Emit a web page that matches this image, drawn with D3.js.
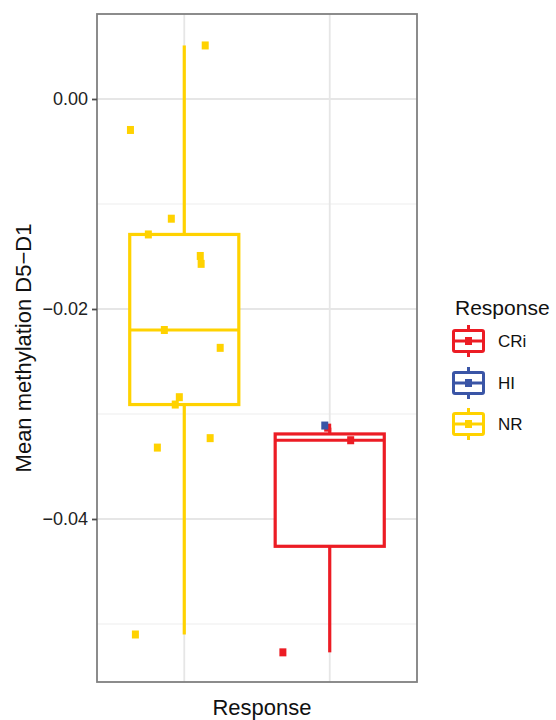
<!DOCTYPE html>
<html>
<head>
<meta charset="utf-8">
<script src="https://cdn.jsdelivr.net/npm/d3@7"></script>
<style>
  body { margin: 0; background: #fff; }
  text { font-family: "Liberation Sans", Arial, sans-serif; }
</style>
</head>
<body>
<div id="chart"></div>
<script>
// data
const groups = ["CRi", "HI", "NR"];
const slots = ["NR", "CRi"];               // positions on the x axis
const groupSlot = { NR: "NR", CRi: "CRi", HI: "CRi" };
const nrValues = [0.0051, -0.00295, -0.0114, -0.0129, -0.01495, -0.0157, -0.0220,
                  -0.0237, -0.0284, -0.0291, -0.0323, -0.0332, -0.0510];
const nrJitter = [0.144, -0.37, -0.089, -0.247, 0.11, 0.116, -0.137,
                  0.247, -0.034, -0.062, 0.178, -0.185, -0.336];
const criValues = [-0.0313, -0.0325, -0.0527];
const criJitter = [-0.014, 0.144, -0.322];
const hiValues = [-0.0311];
const hiJitter = [-0.034];
const yTicks = [-0.04, -0.02, 0.00];
const yMinor = [-0.05, -0.03, -0.01];
const yDomain = [-0.055524, 0.008095];

const colors = { CRi: "#EC1C24", HI: "#3A55A6", NR: "#FFD200" };

const W = 556, H = 720;
const panel = { left: 97, top: 14, right: 417, bottom: 682 };

const svg = d3.select("#chart").append("svg")
    .attr("width", W).attr("height", H);

const y = d3.scaleLinear().domain(yDomain).range([panel.bottom, panel.top]);
// ggplot style discrete axis: positions 1..n, expanded by 0.6
const xc = d3.scaleLinear().domain([0.4, slots.length + 0.6]).range([panel.left, panel.right]);
const xPos = function(name) { return xc(slots.indexOf(name) + 1); };

// grid
const grid = svg.append("g");
grid.selectAll(".minor").data(yMinor).enter().append("line")
    .attr("x1", panel.left).attr("x2", panel.right)
    .attr("y1", d => y(d)).attr("y2", d => y(d))
    .attr("stroke", "#ededed").attr("stroke-width", 1.2);
grid.selectAll(".major").data(yTicks).enter().append("line")
    .attr("x1", panel.left).attr("x2", panel.right)
    .attr("y1", d => y(d)).attr("y2", d => y(d))
    .attr("stroke", "#e6e6e6").attr("stroke-width", 1.8);
grid.selectAll(".vmajor").data(slots).enter().append("line")
    .attr("x1", d => xPos(d)).attr("x2", d => xPos(d))
    .attr("y1", panel.top).attr("y2", panel.bottom)
    .attr("stroke", "#e6e6e6").attr("stroke-width", 1.8);

// boxplot stats, R type 7 quantiles
function boxStats(vals) {
    var s = vals.slice().sort(d3.ascending);
    var q1 = d3.quantileSorted(s, 0.25), med = d3.quantileSorted(s, 0.5), q3 = d3.quantileSorted(s, 0.75);
    var iqr = q3 - q1;
    var lo = d3.min(s.filter(v => v >= q1 - 1.5 * iqr));
    var hi = d3.max(s.filter(v => v <= q3 + 1.5 * iqr));
    return { q1: q1, med: med, q3: q3, lo: lo, hi: hi };
}

const boxW = xc(0.75) - xc(0);
function drawBox(name, vals) {
    var b = boxStats(vals), cx = xPos(groupSlot[name]), c = colors[name];
    var g = svg.append("g").attr("stroke", c).attr("stroke-width", 3.2).attr("fill", "none");
    g.append("line").attr("x1", cx).attr("x2", cx).attr("y1", y(b.q3)).attr("y2", y(b.hi));
    g.append("line").attr("x1", cx).attr("x2", cx).attr("y1", y(b.q1)).attr("y2", y(b.lo));
    g.append("rect").attr("x", cx - boxW / 2).attr("width", boxW)
        .attr("y", y(b.q3)).attr("height", y(b.q1) - y(b.q3)).attr("fill", "#fff");
    g.append("line").attr("x1", cx - boxW / 2).attr("x2", cx + boxW / 2)
        .attr("y1", y(b.med)).attr("y2", y(b.med));
}
drawBox("NR", nrValues);
drawBox("CRi", criValues);

function drawPoints(name, vals, jit) {
    var cx = xPos(groupSlot[name]);
    svg.append("g").selectAll("rect").data(vals).enter().append("rect")
        .attr("x", (d, i) => cx + jit[i] * (xc(1) - xc(0)) - 3.5)
        .attr("y", d => y(d) - 4)
        .attr("width", 7).attr("height", 8)
        .attr("fill", colors[name]);
}
drawPoints("CRi", criValues, criJitter);
drawPoints("HI", hiValues, hiJitter);
drawPoints("NR", nrValues, nrJitter);

// panel border
svg.append("rect").attr("x", panel.left).attr("y", panel.top)
    .attr("width", panel.right - panel.left).attr("height", panel.bottom - panel.top)
    .attr("fill", "none").attr("stroke", "#808080").attr("stroke-width", 1.8);

// y axis
const yAxis = svg.append("g").attr("transform", "translate(" + panel.left + ",0)")
    .call(d3.axisLeft(y).tickValues(yTicks).tickSize(5).tickPadding(4).tickFormat(d3.format(".2f")));
yAxis.select(".domain").remove();
yAxis.selectAll(".tick line").attr("stroke", "#4d4d4d").attr("stroke-width", 1.8);
yAxis.selectAll(".tick text").attr("fill", "#222").style("font-size", "18px")
    .style("font-family", "'Liberation Sans', Arial, sans-serif");

// titles
svg.append("text").attr("transform", "translate(31," + ((panel.top + panel.bottom) / 2) + ")rotate(-90)")
    .attr("text-anchor", "middle").style("font-size", "22px").attr("fill", "#111")
    .text("Mean methylation D5\u2212D1");
svg.append("text").attr("x", 262).attr("y", 715)
    .attr("text-anchor", "middle").style("font-size", "22px").attr("fill", "#111")
    .text("Response");

// legend
const legend = svg.append("g");
legend.append("text").attr("x", 455).attr("y", 315).style("font-size", "21px").attr("fill", "#111")
    .text("Response");
const keyY = [341, 383, 424];
groups.forEach(function(name, i) {
    var cx = 468.5, cy = keyY[i], c = colors[name];
    var k = legend.append("g").attr("stroke", c).attr("stroke-width", 3).attr("fill", "none");
    k.append("line").attr("x1", cx).attr("x2", cx).attr("y1", cy - 16).attr("y2", cy + 16);
    k.append("rect").attr("x", cx - 15).attr("y", cy - 10.5).attr("width", 30).attr("height", 21)
        .attr("rx", 1.5).attr("fill", "#fff");
    k.append("line").attr("x1", cx - 15).attr("x2", cx + 15).attr("y1", cy).attr("y2", cy);
    legend.append("rect").attr("x", cx - 3.5).attr("y", cy - 4).attr("width", 7).attr("height", 8).attr("fill", c);
    legend.append("text").attr("x", 498).attr("y", cy).attr("dy", "0.36em")
        .style("font-size", "17px").attr("fill", "#111").text(name);
});
</script>
</body>
</html>
